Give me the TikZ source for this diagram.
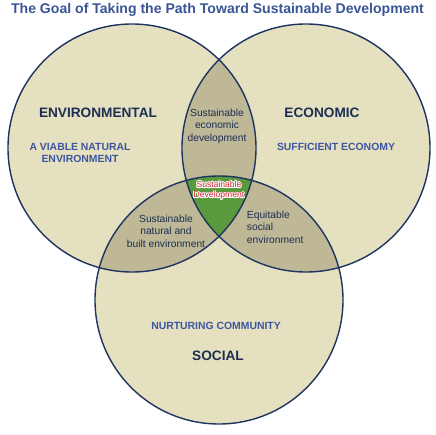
\documentclass[tikz,border=0pt]{standalone}
\usepackage{fontspec}
\setmainfont{Liberation Sans}
\usepackage{contour}
\contourlength{0.6pt}
\usetikzlibrary{positioning}
\definecolor{venncream}{HTML}{E5E0C0}
\definecolor{venntan}{HTML}{BEB897}
\definecolor{venngreen}{HTML}{5B9A3C}
\definecolor{vennline}{HTML}{1E3560}
\definecolor{titleblue}{HTML}{3A5496}
\definecolor{headnavy}{HTML}{1C2E52}
\definecolor{subblue}{HTML}{3C56A0}
\definecolor{goalred}{HTML}{D2202A}

\tikzset{
  heading/.style={font=\bfseries\fontsize{9.7}{11}\selectfont, text=headnavy},
  subhead/.style={font=\bfseries\fontsize{7.4}{8}\selectfont, text=subblue, align=center},
  overlap/.style={font=\fontsize{7.3}{9}\selectfont, text=headnavy, align=center},
  core/.style={font=\fontsize{6.1}{7.2}\selectfont, text=goalred, align=center}
}

\begin{document}
\begin{tikzpicture}[x=0.025cm,y=-0.025cm]
    \useasboundingbox (0,0) rectangle (435,435);

    % Centres of the three circles
    \coordinate (envc) at (132,148);
    \coordinate (ecoc) at (306,148);
    \coordinate (socc) at (219,300);
    \def\rad{124}

    % Base fills
    \fill[venncream] (envc) circle[radius=\rad];
    \fill[venncream] (ecoc) circle[radius=\rad];
    \fill[venncream] (socc) circle[radius=\rad];

    % Pairwise overlaps
    \begin{scope}
        \clip (envc) circle[radius=\rad];
        \fill[venntan] (ecoc) circle[radius=\rad];
        \fill[venntan] (socc) circle[radius=\rad];
    \end{scope}
    \begin{scope}
        \clip (ecoc) circle[radius=\rad];
        \fill[venntan] (socc) circle[radius=\rad];
    \end{scope}

    % Centre where all three meet
    \begin{scope}
        \clip (envc) circle[radius=\rad];
        \clip (ecoc) circle[radius=\rad];
        \fill[venngreen] (socc) circle[radius=\rad];
    \end{scope}

    % Outlines
    \foreach \c in {envc,ecoc,socc}
        \draw[vennline, line width=1pt] (\c) circle[radius=\rad];

    % Title
    \node[font=\bfseries\fontsize{10}{11}\selectfont, text=titleblue] (title) at (217.5,10)
        {The Goal of Taking the Path Toward Sustainable Development};

    % Circle labels
    \node[heading] (env) at (98,113) {ENVIRONMENTAL};
    \node[subhead] (envsub) at (80,153) {A VIABLE NATURAL\\ENVIRONMENT};
    \node[heading] (eco) at (322,113) {ECONOMIC};
    \node[subhead] (ecosub) at (336,147) {SUFFICIENT ECONOMY};
    \node[subhead] (socsub) at (216,326) {NURTURING COMMUNITY};
    \node[heading] (soc) at (218,356) {SOCIAL};

    % Overlap labels
    \node[overlap] (enveco) at (217,126) {Sustainable\\economic\\development};
    \node[overlap] (envsoc) at (166,231) {Sustainable\\natural and\\built environment};
    \node[overlap, align=left, anchor=west] (ecosoc) at (242,227) {Equitable\\social\\environment};
    \node[core] (goal) at (219,191) {\contour{white}{Sustainable}\\\contour{white}{Development}};
\end{tikzpicture}
\end{document}
